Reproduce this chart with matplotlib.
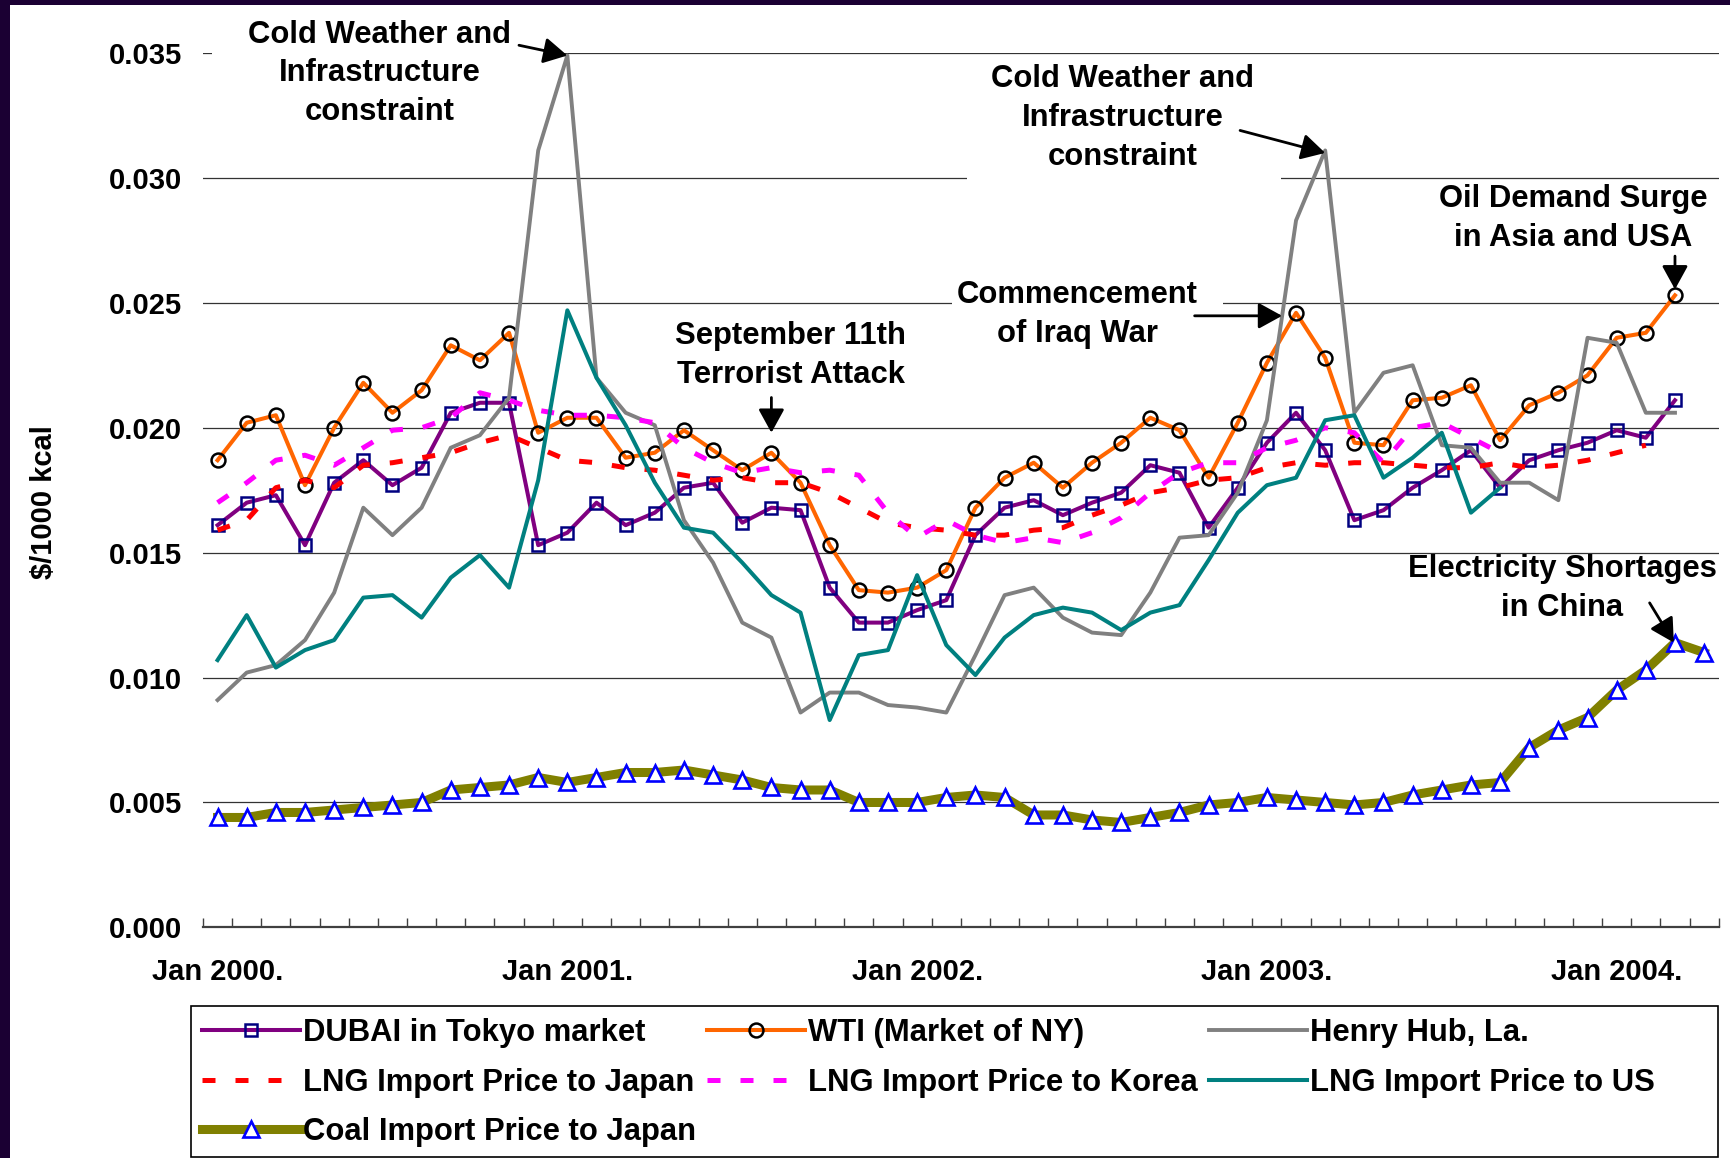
import numpy as np
import matplotlib.pyplot as plt
from matplotlib.patches import Rectangle

# monthly prices, Jan 2000 .. Apr 2004 ($/1000 kcal)
month_labels = ['Jan 2000.', 'Jan 2001.', 'Jan 2002.', 'Jan 2003.', 'Jan 2004.']
label_pos = [0, 12, 24, 36, 48]

dubai = [0.0161, 0.0170, 0.0173, 0.0153, 0.0178, 0.0187, 0.0177, 0.0184, 0.0206, 0.0210,
         0.0210, 0.0153, 0.0158, 0.0170, 0.0161, 0.0166, 0.0176, 0.0178, 0.0162, 0.0168,
         0.0167, 0.0136, 0.0122, 0.0122, 0.0127, 0.0131, 0.0157, 0.0168, 0.0171, 0.0165,
         0.0170, 0.0174, 0.0185, 0.0182, 0.0160, 0.0176, 0.0194, 0.0206, 0.0191, 0.0163,
         0.0167, 0.0176, 0.0183, 0.0191, 0.0176, 0.0187, 0.0191, 0.0194, 0.0199, 0.0196,
         0.0211]
wti = [0.0187, 0.0202, 0.0205, 0.0177, 0.0200, 0.0218, 0.0206, 0.0215, 0.0233, 0.0227,
       0.0238, 0.0198, 0.0204, 0.0204, 0.0188, 0.0190, 0.0199, 0.0191, 0.0183, 0.0190,
       0.0178, 0.0153, 0.0135, 0.0134, 0.0136, 0.0143, 0.0168, 0.0180, 0.0186, 0.0176,
       0.0186, 0.0194, 0.0204, 0.0199, 0.0180, 0.0202, 0.0226, 0.0246, 0.0228, 0.0194,
       0.0193, 0.0211, 0.0212, 0.0217, 0.0195, 0.0209, 0.0214, 0.0221, 0.0236, 0.0238,
       0.0253]
henry_hub = [0.0091, 0.0102, 0.0105, 0.0115, 0.0134, 0.0168, 0.0157, 0.0168, 0.0192, 0.0197,
             0.0212, 0.0311, 0.0349, 0.0220, 0.0206, 0.0201, 0.0163, 0.0146, 0.0122, 0.0116,
             0.0086, 0.0094, 0.0094, 0.0089, 0.0088, 0.0086, 0.0109, 0.0133, 0.0136, 0.0124,
             0.0118, 0.0117, 0.0134, 0.0156, 0.0157, 0.0174, 0.0203, 0.0283, 0.0311, 0.0206,
             0.0222, 0.0225, 0.0193, 0.0192, 0.0178, 0.0178, 0.0171, 0.0236, 0.0234, 0.0206,
             0.0206]
lng_japan = [0.0159, 0.0163, 0.0176, 0.0179, 0.0176, 0.0185, 0.0186, 0.0188, 0.0190, 0.0194,
             0.0197, 0.0192, 0.0187, 0.0186, 0.0184, 0.0183, 0.0181, 0.0179, 0.0180, 0.0178,
             0.0178, 0.0174, 0.0168, 0.0162, 0.0160, 0.0159, 0.0157, 0.0157, 0.0159, 0.0160,
             0.0165, 0.0169, 0.0174, 0.0176, 0.0179, 0.0180, 0.0184, 0.0186, 0.0185, 0.0186,
             0.0186, 0.0185, 0.0184, 0.0184, 0.0186, 0.0184, 0.0185, 0.0187, 0.0190, 0.0193]
lng_korea = [0.0170, 0.0178, 0.0187, 0.0189, 0.0185, 0.0192, 0.0199, 0.0200, 0.0204, 0.0214,
             0.0211, 0.0207, 0.0205, 0.0205, 0.0204, 0.0202, 0.0192, 0.0186, 0.0182, 0.0184,
             0.0182, 0.0183, 0.0181, 0.0166, 0.0156, 0.0163, 0.0157, 0.0154, 0.0156, 0.0154,
             0.0158, 0.0164, 0.0174, 0.0182, 0.0186, 0.0186, 0.0192, 0.0195, 0.0200, 0.0198,
             0.0186, 0.0200, 0.0202, 0.0196, 0.0190]
lng_us = [0.0107, 0.0125, 0.0104, 0.0111, 0.0115, 0.0132, 0.0133, 0.0124, 0.0140, 0.0149,
          0.0136, 0.0179, 0.0247, 0.0220, 0.0201, 0.0178, 0.0160, 0.0158, 0.0146, 0.0133,
          0.0126, 0.0083, 0.0109, 0.0111, 0.0141, 0.0113, 0.0101, 0.0116, 0.0125, 0.0128,
          0.0126, 0.0119, 0.0126, 0.0129, 0.0147, 0.0166, 0.0177, 0.0180, 0.0203, 0.0205,
          0.0180, 0.0188, 0.0198, 0.0166, 0.0176]
coal = [0.0044, 0.0044, 0.0046, 0.0046, 0.0047, 0.0048, 0.0049, 0.0050, 0.0055, 0.0056,
        0.0057, 0.0060, 0.0058, 0.0060, 0.0062, 0.0062, 0.0063, 0.0061, 0.0059, 0.0056,
        0.0055, 0.0055, 0.0050, 0.0050, 0.0050, 0.0052, 0.0053, 0.0052, 0.0045, 0.0045,
        0.0043, 0.0042, 0.0044, 0.0046, 0.0049, 0.0050, 0.0052, 0.0051, 0.0050, 0.0049,
        0.0050, 0.0053, 0.0055, 0.0057, 0.0058, 0.0072, 0.0079, 0.0084, 0.0095, 0.0103,
        0.0114, 0.0110]

plt.rcParams['font.family'] = ['Liberation Sans', 'DejaVu Sans']
plt.rcParams['font.weight'] = 'bold'
FS = 21      # axis text
FS2 = 22.3   # notes and legend

W, H = 1731, 1158
fig = plt.figure(figsize=(W / 100, H / 100), dpi=100)
fig.patch.set_facecolor('#1b0033')
# white page inside the dark frame
fig.add_artist(Rectangle((10 / W, 0), 1, 1 - 5 / H, transform=fig.transFigure,
                         facecolor='white', edgecolor='none', zorder=-10))

ax = fig.add_axes([203 / W, 1 - 927.4 / H, (1718.7 - 203) / W, (927.4 - 53) / H])
ax.set_facecolor('white')

x = np.arange(len(coal))
dash = (0, (2.6, 4.0))
l_dubai, = ax.plot(x[:len(dubai)], dubai, color='#800080', lw=2.9, marker='s', ms=9,
                   mfc='none', mec='#000080', mew=1.8, label='DUBAI in Tokyo market', zorder=3)
l_wti, = ax.plot(x[:len(wti)], wti, color='#ff6600', lw=2.9, marker='o', ms=10,
                 mfc='none', mec='black', mew=1.8, label='WTI (Market of NY)', zorder=3)
l_hh, = ax.plot(x[:len(henry_hub)], henry_hub, color='#808080', lw=2.8,
                label='Henry Hub, La.', zorder=3)
l_jp, = ax.plot(x[:len(lng_japan)], lng_japan, color='#ff0000', lw=3.6, linestyle=dash,
                label='LNG Import Price to Japan', zorder=3)
l_kr, = ax.plot(x[:len(lng_korea)], lng_korea, color='#ff00ff', lw=3.6, linestyle=dash,
                label='LNG Import Price to Korea', zorder=3)
l_us, = ax.plot(x[:len(lng_us)], lng_us, color='#008080', lw=2.9,
                label='LNG Import Price to US', zorder=3)
l_coal, = ax.plot(x, coal, color='#808000', lw=6.5, marker='^', ms=11, mfc='white',
                  mec='#0000ff', mew=1.9, label='Coal Import Price to Japan', zorder=3)

ax.set_xlim(-0.5, len(coal) - 0.5)
ax.set_ylim(0, 0.035)

# month boundary ticks, labels at January points
ax.set_xticks(np.arange(-0.5, len(coal), 1))
ax.tick_params(axis='x', which='major', direction='in', length=6.5, width=1,
               color='#404040', labelbottom=False)
ax.set_xticks(label_pos, minor=True)
ax.set_xticklabels(month_labels, minor=True)
ax.tick_params(axis='x', which='minor', length=0, pad=22, labelsize=FS)

yt = np.arange(0, 0.0351, 0.005)
ax.set_yticks(yt)
ax.set_yticklabels(['%.3f' % v for v in yt])
ax.tick_params(axis='y', length=0, pad=15, labelsize=FS)
ax.grid(axis='y', color='#333333', lw=0.9)
ax.set_axisbelow(True)
for s in ['left', 'top', 'right']:
    ax.spines[s].set_visible(False)
ax.spines['bottom'].set_color('#404040')
ax.spines['bottom'].set_linewidth(1.6)

fig.text(44 / W, 1 - 502 / H, r'\$/1000 kcal', rotation=90, ha='center', va='center', fontsize=FS)

# white strips where the note boxes hide the gridlines
for x0, x1, gy in [(-0.2, 11.2, 0.035), (25.7, 36.5, 0.030), (25.2, 34.5, 0.025)]:
    ax.add_patch(Rectangle((x0, gy - 0.0003), x1 - x0, 0.0006, facecolor='white',
                           edgecolor='none', zorder=1, clip_on=False))

# annotations
notes = [
    ('Cold Weather and\nInfrastructure\nconstraint', 5.57, 0.03418),
    ('Cold Weather and\nInfrastructure\nconstraint', 31.06, 0.03240),
    ('Oil Demand Surge\nin Asia and USA', 46.52, 0.02838),
    ('Commencement\nof Iraq War', 29.5, 0.02455),
    ('September 11th\nTerrorist Attack', 19.66, 0.02288),
    ('Electricity Shortages\nin China', 46.14, 0.01355),
]
for txt, tx, ty in notes:
    ax.text(tx, ty, txt, ha='center', va='center', fontsize=FS2, linespacing=1.39,
            clip_on=False, zorder=4)

arrows = [
    ((10.34, 0.03531), (12.0, 0.0349)),
    ((35.08, 0.0319), (38.0, 0.0310)),
    ((50.0, 0.02687), (50.0, 0.02554)),
    ((33.52, 0.02448), (36.52, 0.02448)),
    ((19.0, 0.02121), (19.0, 0.0198)),
    ((49.13, 0.01299), (49.96, 0.0114)),
]
for tail, tip in arrows:
    ax.annotate('', xy=tip, xytext=tail, annotation_clip=False,
                arrowprops=dict(arrowstyle='-|>,head_length=0.4,head_width=0.22',
                                color='black', lw=2, mutation_scale=36,
                                shrinkA=0, shrinkB=0), zorder=5)

# legend box
fig.add_artist(Rectangle((191 / W, 1 - 1157 / H), (1718 - 191) / W, (1157 - 1006) / H,
                         transform=fig.transFigure, facecolor='white', edgecolor='black',
                         lw=1.2, zorder=1))
handles = [l_dubai, l_jp, l_coal, l_wti, l_kr, l_hh, l_us]
leg = fig.legend(handles, [h.get_label() for h in handles], ncol=3, loc='upper left',
                 bbox_to_anchor=(202 / W, 1 - 1018 / H), borderaxespad=0, borderpad=0,
                 fontsize=FS2, handlelength=3.15, handletextpad=0.12, columnspacing=0.35,
                 labelspacing=0.63, numpoints=1, frameon=False)
leg.set_zorder(2)

plt.savefig('out.png', dpi=100, facecolor=fig.get_facecolor())
